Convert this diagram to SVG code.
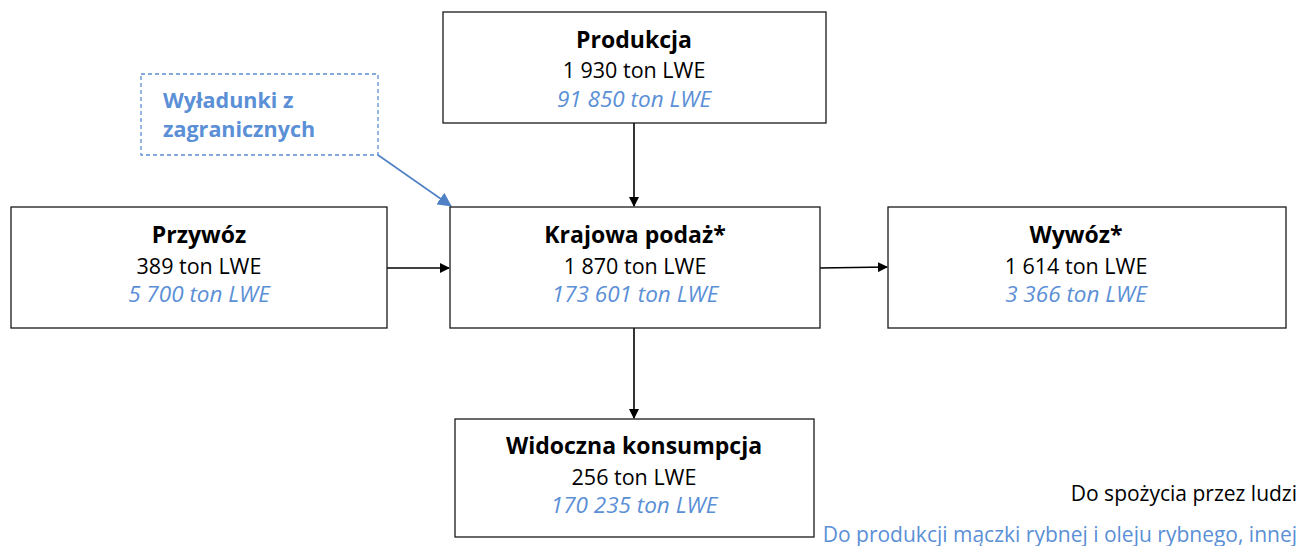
<svg xmlns="http://www.w3.org/2000/svg" width="1299" height="546" viewBox="0 0 1299 546">
<defs>
<style>
.box{fill:#fff;stroke:#1a1a1a;stroke-width:1.3}
.dash{fill:#fff;stroke:#5b8fd0;stroke-width:1.3;stroke-dasharray:4 3}
text{font-family:"Open Sans","Liberation Sans",sans-serif;font-size:21px;fill:#000}
.t{font-weight:bold;font-size:23px;text-anchor:middle}
.v{text-anchor:middle;font-size:21.5px}
.b{text-anchor:middle;font-style:italic;fill:#5b8fd6;font-size:22.5px}
.bl{font-weight:bold;font-size:21.5px;fill:#5b8fd6}
.ln{stroke:#000;stroke-width:1.6;fill:none}
.lnb{stroke:#4f81c4;stroke-width:1.6;fill:none}
</style>
<marker id="ah" markerWidth="10" markerHeight="10" refX="9" refY="5" orient="auto" markerUnits="userSpaceOnUse" viewBox="0 0 10 10"><path d="M0,0 L10,5 L0,10 z" fill="#000"/></marker>
<marker id="ahb" markerWidth="14" markerHeight="14" refX="13" refY="7" orient="auto" markerUnits="userSpaceOnUse" viewBox="0 0 14 14"><path d="M0,0 L14,7 L0,14 z" fill="#4f81c4"/></marker>
</defs>
<g id="connectors">
<line class="ln" x1="634" y1="123" x2="634" y2="206" marker-end="url(#ah)"/>
<line class="ln" x1="387" y1="268" x2="449" y2="268" marker-end="url(#ah)"/>
<line class="ln" x1="820" y1="268" x2="887" y2="267" marker-end="url(#ah)"/>
<line class="ln" x1="634" y1="328" x2="634" y2="418" marker-end="url(#ah)"/>
<line class="lnb" x1="378" y1="155" x2="451" y2="206" marker-end="url(#ahb)"/>
</g>
<g id="produkcja">
<rect class="box" x="443" y="12" width="383" height="111"/>
<text class="t" x="634" y="48">Produkcja</text>
<text class="v" x="634" y="78">1 930 ton LWE</text>
<text class="b" x="634" y="107">91 850 ton LWE</text>
</g>
<g id="wyladunki">
<rect class="dash" x="141" y="74" width="237" height="81"/>
<text class="bl" x="163" y="108">Wyładunki z</text>
<text class="bl" x="163" y="137">zagranicznych</text>
</g>
<g id="przywoz">
<rect class="box" x="11" y="207" width="376" height="121"/>
<text class="t" x="199" y="243">Przywóz</text>
<text class="v" x="199" y="274">389 ton LWE</text>
<text class="b" x="199" y="302">5 700 ton LWE</text>
</g>
<g id="krajowa">
<rect class="box" x="450" y="207" width="370" height="121"/>
<text class="t" x="635" y="243">Krajowa podaż*</text>
<text class="v" x="635" y="274">1 870 ton LWE</text>
<text class="b" x="635" y="302">173 601 ton LWE</text>
</g>
<g id="wywoz">
<rect class="box" x="888" y="207" width="398" height="121"/>
<text class="t" x="1076" y="243">Wywóz*</text>
<text class="v" x="1076" y="274">1 614 ton LWE</text>
<text class="b" x="1076" y="302">3 366 ton LWE</text>
</g>
<g id="widoczna">
<rect class="box" x="455" y="419" width="359" height="118"/>
<text class="t" x="634" y="454">Widoczna konsumpcja</text>
<text class="v" x="634" y="485">256 ton LWE</text>
<text class="b" x="634" y="513">170 235 ton LWE</text>
</g>
<g id="legend">
<text x="1297" y="501" text-anchor="end">Do spożycia przez ludzi</text>
<text x="1297" y="542" text-anchor="end" style="fill:#5b8fd6">Do produkcji mączki rybnej i oleju rybnego, innej</text>
</g>
</svg>
